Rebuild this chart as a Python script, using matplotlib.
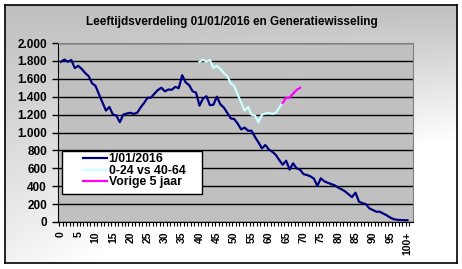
import numpy as np
import matplotlib
matplotlib.use("Agg")
import matplotlib.pyplot as plt
from matplotlib.ticker import FuncFormatter
from matplotlib.patches import Rectangle

plt.rcParams['font.family'] = ['Liberation Sans', 'DejaVu Sans']
plt.rcParams['font.weight'] = 'bold'

# data
ages = list(range(101))
pop_2016 = [1790, 1815, 1790, 1810, 1720, 1745, 1710, 1665, 1630, 1550,
            1520, 1425, 1335, 1245, 1285, 1200, 1190, 1115, 1200, 1212,
            1220, 1208, 1220, 1280, 1330, 1388, 1390, 1435, 1475, 1500,
            1460, 1480, 1478, 1510, 1495, 1640, 1560, 1530, 1460, 1445,
            1300, 1380, 1405, 1305, 1310, 1400, 1315, 1280, 1220, 1158,
            1150, 1100, 1035, 1055, 1020, 1020, 950, 890, 823, 860,
            810, 785, 750, 693, 640, 685, 585, 656, 600, 585,
            535, 525, 510, 485, 402, 488, 455, 438, 424, 410,
            385, 365, 342, 310, 278, 328, 228, 210, 200, 153,
            134, 115, 115, 95, 75, 50, 32, 25, 22, 20,
            20]

gen_ages = list(range(40, 65))
gen_values = [1790, 1815, 1790, 1810, 1720, 1745, 1710, 1665, 1630, 1550,
              1520, 1425, 1335, 1245, 1285, 1200, 1190, 1115, 1200, 1212,
              1220, 1208, 1220, 1280, 1330]

prev_ages = list(range(64, 70))
prev_values = [1330, 1388, 1390, 1435, 1475, 1500]

tick_ages = list(range(0, 101, 5))
tick_labels = [str(a) for a in range(0, 100, 5)] + ['100+']

W, H = 462, 269
fig = plt.figure(figsize=(W / 100, H / 100), dpi=100)

# chart area with gradient
bg = fig.add_axes([5 / W, 1 - 263 / H, 452 / W, 258 / H])
yy, xx = np.mgrid[0:1:200j, 0:1:300j]
t = np.clip(1.6 * yy * (0.5 + 0.7 * xx), 0, 1)
grey = 0.75 + 0.25 * t
bg.imshow(np.dstack([grey, grey, grey]), aspect='auto', extent=[0, 1, 1, 0])
bg.set_xticks([])
bg.set_yticks([])
for s in bg.spines.values():
    s.set_color('black')
    s.set_linewidth(1.2)

ax = fig.add_axes([58 / W, 1 - 222 / H, 355 / W, 179 / H])
ax.set_facecolor('#c0c0c0')

ax.plot(ages, pop_2016, color='#000080', lw=1.6, label='1/01/2016')
ax.plot(gen_ages, gen_values, color='#ccffff', lw=1.6, label='0-24 vs 40-64')
ax.plot(prev_ages, prev_values, color='#ff00ff', lw=1.6, label='Vorige 5 jaar')

ax.set_ylim(0, 2000)
ax.set_yticks(range(0, 2001, 200))
ax.yaxis.set_major_formatter(FuncFormatter(lambda v, p: f"{int(v):,}".replace(',', '.')))
ax.yaxis.grid(True, color='black', lw=1)
ax.set_axisbelow(True)

ax.set_xlim(-0.84, 101.6)
ax.set_xticks(tick_ages)
ax.set_xticklabels(tick_labels, rotation=90)
ax.set_xticks(np.arange(-0.5, 101, 1), minor=True)
ax.tick_params(axis='x', which='major', length=0, pad=7, labelsize=7.5)
ax.tick_params(axis='x', which='minor', length=3, width=0.8, color='black')
ax.tick_params(axis='y', length=4, width=1, labelsize=8.5, pad=4)

ax.spines['left'].set_color('black')
ax.spines['bottom'].set_color('black')
ax.spines['top'].set_color('#808080')
ax.spines['right'].set_color('#808080')

fig.text(232 / W, 1 - 22 / H, 'Leeftijdsverdeling 01/01/2016 en Generatiewisseling',
         ha='center', va='center', fontsize=8.5, fontweight='bold')

# legend box like the Excel one
ax.add_patch(Rectangle((62 / W, 1 - 194 / H), 140 / W, 43 / H, transform=fig.transFigure,
                       facecolor='white', edgecolor='black', lw=1, clip_on=False, zorder=4))
leg = ax.legend(loc='upper left', bbox_to_anchor=(83 / W, 1 - 153.5 / H),
                bbox_transform=fig.transFigure, borderaxespad=0, frameon=False,
                fontsize=8.8, handlelength=2.0, handletextpad=0.1,
                labelspacing=-0.05, borderpad=0)
leg.set_zorder(5)
for line in leg.get_lines():
    line.set_linewidth(1.6)

fig.savefig('out.png', dpi=100)
